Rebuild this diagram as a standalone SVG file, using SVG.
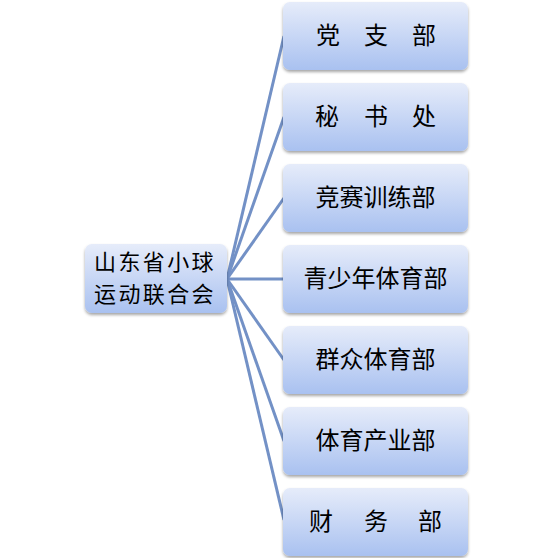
<svg xmlns="http://www.w3.org/2000/svg" width="554" height="558" viewBox="0 0 554 558">
<defs>
<linearGradient id="g" x1="0" y1="0" x2="0" y2="1">
<stop offset="0" stop-color="#e6ecfa"/>
<stop offset="1" stop-color="#a9c1f0"/>
</linearGradient>
<filter id="sh" x="-10%" y="-10%" width="120%" height="130%">
<feDropShadow dx="0" dy="2" stdDeviation="1.5" flood-color="#000" flood-opacity="0.35"/>
</filter>
</defs>
<style>
.box{fill:url(#g);filter:url(#sh)}
.t{font-family:"Noto Sans CJK SC","Noto Sans CJK JP",sans-serif;font-size:24px;fill:#000}
.r{font-size:22px;letter-spacing:2.4px}
.c{stroke:#7391c6;stroke-width:3;fill:none}
</style>
<rect width="554" height="558" fill="#fff"/>
<g id="connectors">
<line class="c" x1="227" y1="279" x2="284" y2="36"/>
<line class="c" x1="227" y1="279" x2="284" y2="117"/>
<line class="c" x1="227" y1="279" x2="284" y2="198"/>
<line class="c" x1="227" y1="279" x2="284" y2="279"/>
<line class="c" x1="227" y1="279" x2="284" y2="360"/>
<line class="c" x1="227" y1="279" x2="284" y2="441"/>
<line class="c" x1="227" y1="279" x2="284" y2="520"/>
</g>
<g id="root">
<rect class="box" x="85" y="244" width="142" height="69" rx="7"/>
<text class="t r" x="94" y="270">山东省小球</text>
<text class="t r" x="94" y="302">运动联合会</text>
</g>
<g id="n1">
<rect class="box" x="283" y="2" width="185" height="68" rx="7"/>
<text class="t" x="316" y="44">党</text><text class="t" x="364" y="44">支</text><text class="t" x="412" y="44">部</text>
</g>
<g id="n2">
<rect class="box" x="283" y="83" width="185" height="68" rx="7"/>
<text class="t" x="315" y="125">秘</text><text class="t" x="364" y="125">书</text><text class="t" x="412" y="125">处</text>
</g>
<g id="n3">
<rect class="box" x="283" y="164" width="185" height="68" rx="7"/>
<text class="t" x="375.5" y="206" text-anchor="middle">竞赛训练部</text>
</g>
<g id="n4">
<rect class="box" x="283" y="245" width="185" height="68" rx="7"/>
<text class="t" x="375.5" y="287" text-anchor="middle">青少年体育部</text>
</g>
<g id="n5">
<rect class="box" x="283" y="326" width="185" height="68" rx="7"/>
<text class="t" x="375.5" y="368" text-anchor="middle">群众体育部</text>
</g>
<g id="n6">
<rect class="box" x="283" y="407" width="185" height="68" rx="7"/>
<text class="t" x="375.5" y="449" text-anchor="middle">体育产业部</text>
</g>
<g id="n7">
<rect class="box" x="283" y="488" width="185" height="68" rx="7"/>
<text class="t" x="309" y="530">财</text><text class="t" x="364" y="530">务</text><text class="t" x="418" y="530">部</text>
</g>
</svg>
